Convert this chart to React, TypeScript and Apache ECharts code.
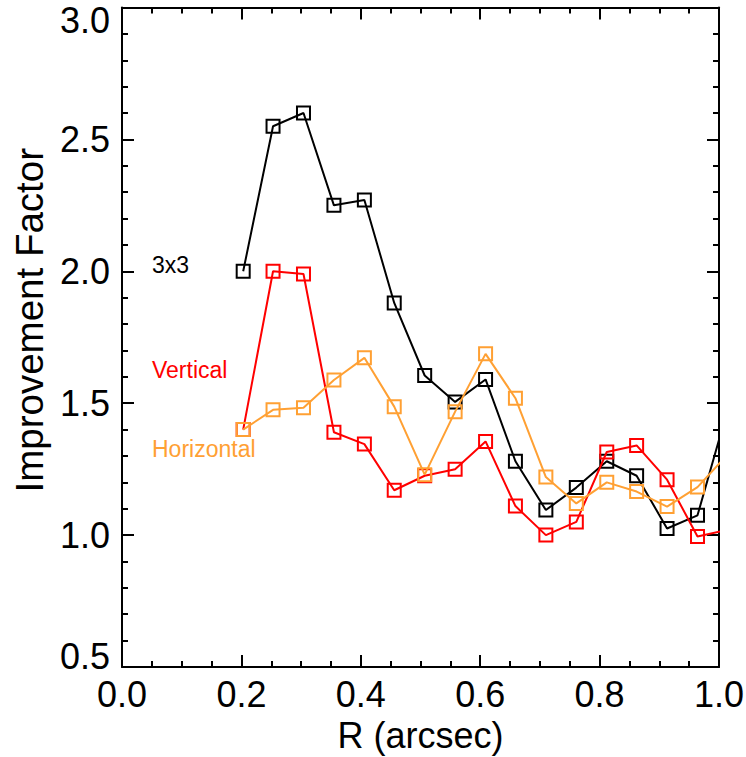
import React, { useEffect, useRef } from "react";
import * as echarts from "echarts";

const rValues = [0.203, 0.253, 0.304, 0.355, 0.406, 0.456, 0.507, 0.558, 0.609, 0.659, 0.710, 0.761, 0.812, 0.862, 0.913, 0.964, 1.015];
const black3x3 = [2.00, 2.55, 2.60, 2.25, 2.27, 1.88, 1.605, 1.505, 1.59, 1.28, 1.095, 1.18, 1.28, 1.225, 1.025, 1.075, 1.48];
const redVertical = [1.40, 2.00, 1.99, 1.39, 1.345, 1.17, 1.225, 1.25, 1.355, 1.11, 1.00, 1.05, 1.315, 1.34, 1.21, 0.995, 1.02];
const orangeHorizontal = [1.40, 1.475, 1.483, 1.588, 1.672, 1.487, 1.229, 1.468, 1.687, 1.519, 1.22, 1.12, 1.20, 1.165, 1.108, 1.182, 1.307];

const seriesNames = ["3x3", "Vertical", "Horizontal"];
const seriesColors = ["#000000", "#ff0000", "#ffa033"];
const xTicks = { min: 0, max: 1, interval: 0.2 };
const yTicks = { min: 0.5, max: 3.0, interval: 0.5 };

const FONT = "Liberation Sans, Arial, Helvetica, sans-serif";

export default function App() {
  const ref = useRef<HTMLDivElement>(null);
  useEffect(() => {
    if (!ref.current) return;
    const chart = echarts.init(ref.current, null, { renderer: "svg" });
    const datasets = [black3x3, redVertical, orangeHorizontal];
    const axisLine = { show: true, onZero: false, lineStyle: { color: "#000", width: 2 } };
    const axisTick = { show: true, inside: true, length: 12, lineStyle: { color: "#000", width: 2 } };
    const minorBase = { show: true, length: 6, lineStyle: { color: "#000", width: 2 } };
    const makeX = (pos: string, labels: boolean) => ({
      type: "value",
      position: pos,
      min: xTicks.min,
      max: xTicks.max,
      interval: xTicks.interval,
      axisLine,
      axisTick,
      minorTick: { ...minorBase, splitNumber: 4 },
      splitLine: { show: false },
      axisLabel: {
        show: labels,
        fontFamily: FONT,
        fontSize: 36,
        lineHeight: 36,
        color: "#000",
        margin: 9,
        formatter: (v: number) => v.toFixed(1),
      },
      name: labels ? "R (arcsec)" : "",
      nameLocation: "middle",
      nameGap: 50,
      nameTextStyle: { fontFamily: FONT, fontSize: 36, color: "#000" },
    });
    const makeY = (pos: string, labels: boolean) => ({
      type: "value",
      position: pos,
      min: yTicks.min,
      max: yTicks.max,
      interval: yTicks.interval,
      axisLine,
      axisTick,
      minorTick: { ...minorBase, splitNumber: 5 },
      splitLine: { show: false },
      axisLabel: {
        show: labels,
        fontFamily: FONT,
        fontSize: 36,
        color: "#000",
        margin: 12,
        rich: {
          top: { fontFamily: FONT, fontSize: 36, lineHeight: 26, color: "#000" },
          bot: { fontFamily: FONT, fontSize: 36, lineHeight: 21, color: "#000" },
        },
        formatter: (v: number) => {
          const s = v.toFixed(1);
          if (Math.abs(v - yTicks.max) < 1e-6) return "{top| }\n{top|" + s + "}";
          if (Math.abs(v - yTicks.min) < 1e-6) return "{bot|" + s + "}\n{bot| }";
          return s;
        },
      },
      name: labels ? "Improvement Factor" : "",
      nameLocation: "middle",
      nameGap: 72,
      nameTextStyle: { fontFamily: FONT, fontSize: 38.5, color: "#000", padding: [0, 0, 0, 34] },
    });

    const labelPos = [
      { x: 152, y: 265 },
      { x: 152, y: 370 },
      { x: 152, y: 449 },
    ];

    chart.setOption({
      animation: false,
      backgroundColor: "#fff",
      grid: { left: 122, right: 27, top: 7.5, bottom: 90, containLabel: false, outerBoundsMode: "none" },
      xAxis: [makeX("bottom", true), makeX("top", false)],
      yAxis: [makeY("left", true), makeY("right", false)],
      series: datasets.map((d, i) => ({
        type: "line",
        name: seriesNames[i],
        xAxisIndex: 0,
        yAxisIndex: 0,
        data: d.map((v, j) => [rValues[j], v]),
        clip: true,
        symbol: "rect",
        symbolSize: 13,
        showAllSymbol: true,
        lineStyle: { color: seriesColors[i], width: 2 },
        itemStyle: { color: "rgba(0,0,0,0)", borderColor: seriesColors[i], borderWidth: 2 },
        emphasis: { disabled: true },
        z: 2 + i,
      })),
      graphic: seriesNames.map((n, i) => ({
        type: "text",
        x: labelPos[i].x,
        y: labelPos[i].y,
        style: {
          text: n,
          fill: seriesColors[i],
          font: `23px ${FONT}`,
          verticalAlign: "middle",
          align: "left",
        },
      })),
    });
    return () => chart.dispose();
  }, []);
  return (
    <div
      ref={ref}
      style={{ position: "fixed", left: 0, top: 0, width: 746, height: 757 }}
    />
  );
}
